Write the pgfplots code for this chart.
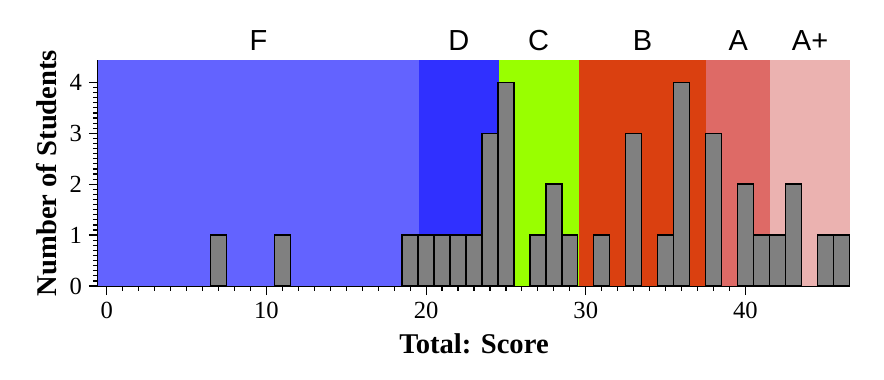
\documentclass[border=0pt]{standalone}
\usepackage{fontspec}
\setmainfont{Liberation Serif}
\newfontfamily\gradefont{Liberation Sans}
\usepackage{pgfplots}
\pgfplotsset{compat=1.18}
\definecolor{cF}{RGB}{99,99,255}
\definecolor{cD}{RGB}{48,48,255}
\definecolor{cC}{RGB}{153,255,0}
\definecolor{cB}{RGB}{218,64,16}
\definecolor{cA}{RGB}{222,106,102}
\definecolor{cAp}{RGB}{235,178,176}
\definecolor{barg}{RGB}{128,128,128}
\begin{document}
\begin{tikzpicture}
\path[use as bounding box] (-49pt,-47pt) rectangle (393pt,143pt);
\begin{axis}[
  scale only axis,
  width=376pt, height=113pt,
  xmin=-0.55, xmax=46.55,
  ymin=0, ymax=4.44,
  axis x line*=bottom, axis y line*=left,
  axis line style={line width=0.6pt},
  tick align=outside,
  tick style={black, line width=0.6pt},
  major tick length=4.5pt,
  minor tick length=2.5pt,
  xtick={0,10,20,30,40},
  minor x tick num=9,
  ytick={0,1,2,3,4},
  minor y tick num=9,
  /pgf/number format/assume math mode=true,
  tick label style={font=\fontsize{12.3}{14}\selectfont},
  xlabel={Total: Score},
  ylabel={Number of Students},
  label style={font=\fontsize{14.3}{16}\selectfont\bfseries},
  xlabel style={yshift=-0.5pt},
  ylabel style={yshift=-0.5pt},
  clip=false,
  axis on top=false,
]
\addplot[draw=none, fill=cF] coordinates {(-0.55,0) (19.55,0) (19.55,4.44) (-0.55,4.44)} -- cycle;
\addplot[draw=none, fill=cD] coordinates {(19.55,0) (24.55,0) (24.55,4.44) (19.55,4.44)} -- cycle;
\addplot[draw=none, fill=cC] coordinates {(24.55,0) (29.55,0) (29.55,4.44) (24.55,4.44)} -- cycle;
\addplot[draw=none, fill=cB] coordinates {(29.55,0) (37.55,0) (37.55,4.44) (29.55,4.44)} -- cycle;
\addplot[draw=none, fill=cA] coordinates {(37.55,0) (41.55,0) (41.55,4.44) (37.55,4.44)} -- cycle;
\addplot[draw=none, fill=cAp] coordinates {(41.55,0) (46.55,0) (46.55,4.44) (41.55,4.44)} -- cycle;
\addplot[ybar, bar width=1, fill=barg, draw=black, line width=0.7pt] coordinates {
(7,1) (11,1) (19,1) (20,1) (21,1) (22,1) (23,1) (24,3) (25,4)
(27,1) (28,2) (29,1) (31,1) (33,3) (35,1) (36,4) (38,3)
(40,2) (41,1) (42,1) (43,2) (45,1) (46,1)};
\node[font=\gradefont\fontsize{14.5}{16}\selectfont, anchor=base, yshift=5pt] at (axis cs:9.5,4.44) {F};
\node[font=\gradefont\fontsize{14.5}{16}\selectfont, anchor=base, yshift=5pt] at (axis cs:22.05,4.44) {D};
\node[font=\gradefont\fontsize{14.5}{16}\selectfont, anchor=base, yshift=5pt] at (axis cs:27.05,4.44) {C};
\node[font=\gradefont\fontsize{14.5}{16}\selectfont, anchor=base, yshift=5pt] at (axis cs:33.55,4.44) {B};
\node[font=\gradefont\fontsize{14.5}{16}\selectfont, anchor=base, yshift=5pt] at (axis cs:39.55,4.44) {A};
\node[font=\gradefont\fontsize{14.5}{16}\selectfont, anchor=base, yshift=5pt] at (axis cs:44.05,4.44) {A+};
\end{axis}
\end{tikzpicture}
\end{document}
